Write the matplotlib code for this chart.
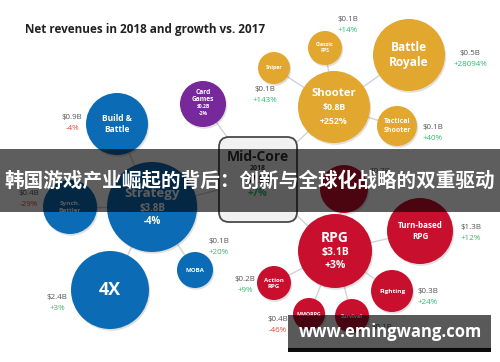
import matplotlib
matplotlib.use("Agg")
import matplotlib.pyplot as plt
from matplotlib.patches import Circle, Rectangle, FancyBboxPatch

# ---------------- data ----------------
title = "Net revenues in 2018 and growth vs. 2017"
hub_name = "Mid-Core"
hub_year = "2018"
hub_revenue = "$7.9B"
hub_growth = "+7%"

main_genres = ["Strategy", "Shooter", "RPG", "Card\nGames"]
main_revenue = ["$3.8B", "$0.8B", "$3.1B", "$0.2B"]
main_growth = ["-4%", "+252%", "+3%", "-2%"]

sub_genres = ["Build &\nBattle", "Synch.\nBattler", "4X", "MOBA",
              "Sniper", "Classic\nFPS", "Battle\nRoyale", "Tactical\nShooter",
              "", "Turn-based\nRPG", "Action\nRPG", "Fighting", "MMORPG", "Survival"]
sub_parent = [0, 0, 0, 0, 1, 1, 1, 1, 2, 2, 2, 2, 2, 2]
sub_revenue = ["$0.9B", "$0.4B", "$2.4B", "$0.1B",
               "$0.1B", "$0.1B", "$0.5B", "$0.1B",
               "$0.7B", "$1.3B", "$0.2B", "$0.3B", "$0.4B", "$0.1B"]
sub_growth = ["-4%", "-29%", "+3%", "+20%",
              "+143%", "+14%", "+28094%", "+40%",
              "", "+12%", "+9%", "+24%", "-46%", ""]

banner_text = "韩国游戏产业崛起的背后：创新与全球化战略的双重驱动"
watermark_text = "www.emingwang.com"

# ---------------- layout / style ----------------
family_colors = ["#0b6cb5", "#e2a72e", "#c8102e", "#77289a"]
GREEN = "#2dbb6c"
RED = "#e8453c"
GRAY_TXT = "#555555"
LINE = "#d2d2d2"
FONT = "Open Sans"

hub_box = (219, 137, 78, 85)
main_pos = [(152, 207), (334, 107), (335, 251), (203, 104)]
main_r = [45, 36, 37, 23]
main_fs = [(9.5, 7), (8.2, 6.3), (10, 7.5), (4.8, 3.6)]

sub_pos = [(117, 124), (70, 207), (110, 290), (195, 270),
           (274, 68), (325, 48), (409, 55), (397, 126),
           (344, 189), (420, 231), (274, 283), (392, 291), (309, 314), (352, 316)]
sub_r = [31, 27, 39, 18, 16, 17, 36, 20, 24, 33, 17, 21, 16, 17]
sub_fs = [6.0, 4.6, 13, 4.4, 3.8, 3.8, 8.6, 5.0, 5, 5.8, 4.4, 4.6, 3.8, 4.0]
sub_label_pos = [(72, 117), (29, 194), (57, 297), (219, 242),
                 (265, 90), (348, 20), (470, 53), (433, 127),
                 (380, 172), (471, 227), (245, 280), (428, 292), (278, 320), (382, 328)]

fig = plt.figure(figsize=(5.0, 3.62), dpi=100)
ax = fig.add_axes([0, 0, 1, 1])
ax.set_xlim(0, 500)
ax.set_ylim(362, 0)
ax.axis("off")

hx, hy, hw, hh = hub_box
hub_c = (hx + hw / 2, hy + hh / 2)

# connecting lines
for p in main_pos:
    ax.plot([hub_c[0], p[0]], [hub_c[1], p[1]], color=LINE, lw=1.0, zorder=1)
for i, p in enumerate(sub_pos):
    q = main_pos[sub_parent[i]]
    ax.plot([q[0], p[0]], [q[1], p[1]], color=LINE, lw=1.0, zorder=1)

def bubble(center, r, color):
    ax.add_patch(Circle((center[0] + 1.2, center[1] + 1.8), r, color="black",
                        alpha=0.12, lw=0, zorder=2))
    ax.add_patch(Circle(center, r, color=color, lw=0, zorder=3))

# hub box
ax.add_patch(FancyBboxPatch((hx, hy), hw, hh, boxstyle="round,pad=0,rounding_size=10",
                            fc="#f1f1f1", ec="#4a4a4a", lw=1.3, zorder=4))
ax.text(hub_c[0], 157, hub_name, ha="center", va="center", fontsize=10,
        fontweight="bold", color="#333333", family=FONT, zorder=5)
ax.text(hub_c[0], 169, hub_year, ha="center", va="center", fontsize=5,
        fontweight="bold", color="#333333", family=FONT, zorder=5)
ax.text(hub_c[0], 181, hub_revenue, ha="center", va="center", fontsize=7,
        fontweight="bold", color="#333333", family=FONT, zorder=5)
ax.text(hub_c[0], 194, hub_growth, ha="center", va="center", fontsize=7,
        fontweight="bold", color=GREEN, family=FONT, zorder=5)

# main genre bubbles
for i, name in enumerate(main_genres):
    col = family_colors[i]
    bubble(main_pos[i], main_r[i], col)
    cx, cy = main_pos[i]
    fn, fv = main_fs[i]
    if i == 3:
        ax.text(cx, cy - 8, name, ha="center", va="center", fontsize=fn,
                fontweight="bold", color="white", family=FONT, zorder=5, linespacing=1.1)
        ax.text(cx, cy + 3, main_revenue[i], ha="center", va="center", fontsize=fv,
                fontweight="bold", color="white", family=FONT, zorder=5)
        ax.text(cx, cy + 9.5, main_growth[i], ha="center", va="center", fontsize=fv,
                fontweight="bold", color="white", family=FONT, zorder=5)
    else:
        ax.text(cx, cy - 13, name, ha="center", va="center", fontsize=fn,
                fontweight="bold", color="white", family=FONT, zorder=5)
        ax.text(cx, cy + 1, main_revenue[i], ha="center", va="center", fontsize=fv,
                fontweight="bold", color="white", family=FONT, zorder=5)
        ax.text(cx, cy + 14, main_growth[i], ha="center", va="center", fontsize=fv,
                fontweight="bold", color="white", family=FONT, zorder=5)

# sub genre bubbles
for i, name in enumerate(sub_genres):
    col = family_colors[sub_parent[i]]
    bubble(sub_pos[i], sub_r[i], col)
    cx, cy = sub_pos[i]
    ax.text(cx, cy, name, ha="center", va="center", fontsize=sub_fs[i],
            fontweight="bold", color="white", family=FONT, zorder=5, linespacing=1.25)
    lx, ly = sub_label_pos[i]
    ax.text(lx, ly, sub_revenue[i], ha="center", va="center", fontsize=5.8,
            color=GRAY_TXT, family=FONT, zorder=5)
    g = sub_growth[i]
    if g:
        ax.text(lx, ly + 11, g, ha="center", va="center", fontsize=5.8,
                color=(RED if g.startswith("-") else GREEN), family=FONT, zorder=5)

# title
ax.text(25, 29, title, ha="left", va="center", fontsize=8.5, fontweight="bold",
        color="#222222", family=FONT, zorder=5)

# banner overlay
ax.add_patch(Rectangle((0, 149), 500, 63, fc="black", alpha=0.63, lw=0, zorder=10))
ax.text(250, 181, banner_text, ha="center", va="center", fontsize=14.1, fontweight="bold",
        color="white", family=["Noto Sans CJK SC", "DejaVu Sans"], zorder=11)

# watermark overlay
ax.add_patch(Rectangle((288, 315), 203, 34, fc="black", alpha=0.65, lw=0, zorder=10))
ax.add_patch(Rectangle((288, 348), 203, 4, fc="black", alpha=0.95, lw=0, zorder=10))
ax.text(390, 332, watermark_text, ha="center", va="center", fontsize=12,
        fontweight="bold", color="white", family=FONT, zorder=11)

fig.savefig("out.png", dpi=100)
